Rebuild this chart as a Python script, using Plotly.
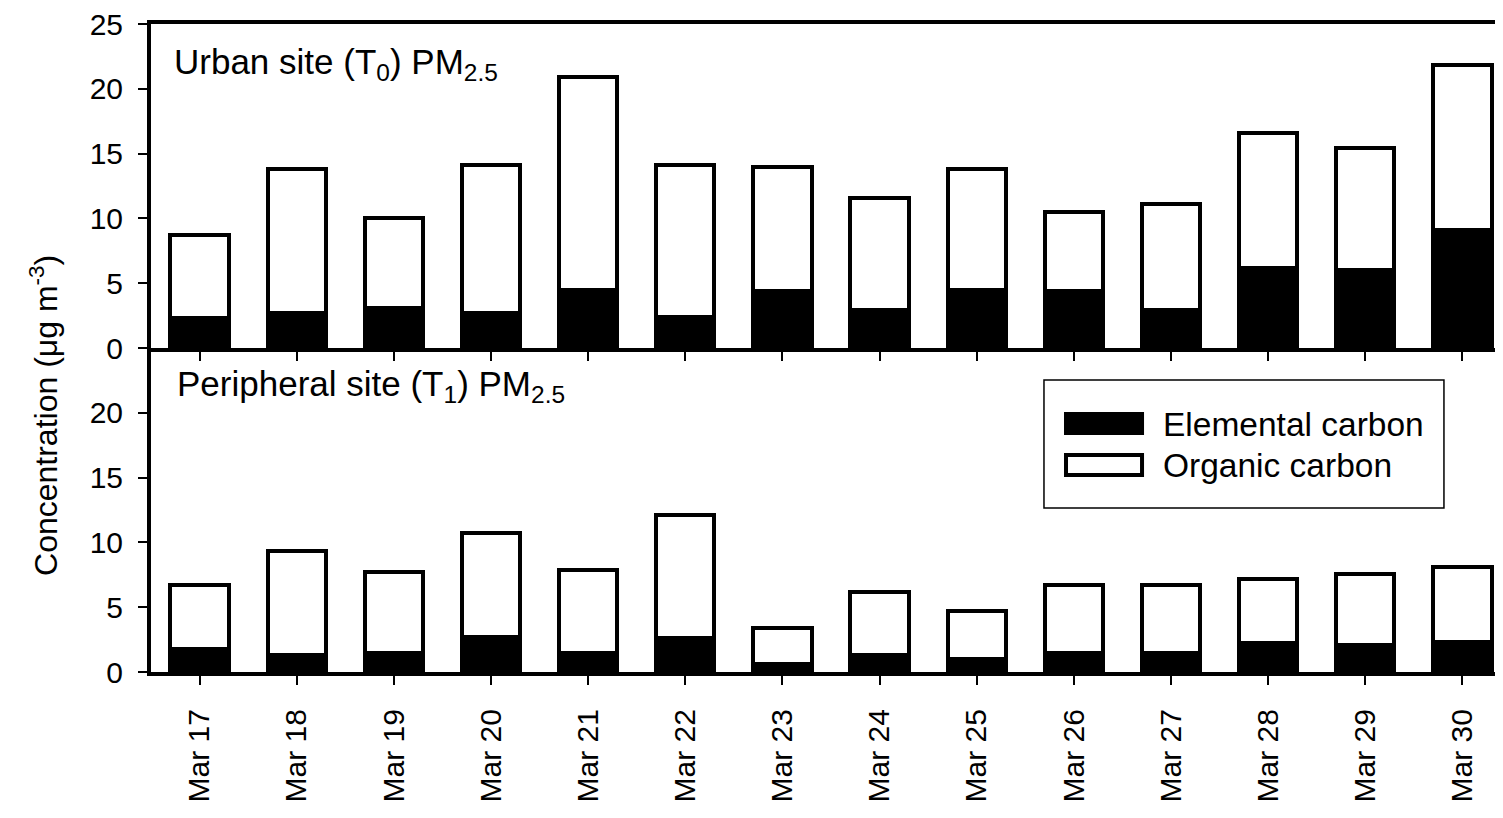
import plotly.graph_objects as go
from plotly.subplots import make_subplots

dates = ["Mar 17", "Mar 18", "Mar 19", "Mar 20", "Mar 21", "Mar 22", "Mar 23",
         "Mar 24", "Mar 25", "Mar 26", "Mar 27", "Mar 28", "Mar 29", "Mar 30"]

# Urban site (T0) PM2.5
urban_ec = [2.3, 2.7, 3.1, 2.7, 4.5, 2.4, 4.4, 2.9, 4.5, 4.4, 2.9, 6.2, 6.0, 9.1]
urban_oc = [6.4, 11.1, 6.9, 11.4, 16.4, 11.7, 9.6, 8.7, 9.3, 6.1, 8.2, 10.4, 9.4, 12.7]

# Peripheral site (T1) PM2.5
periph_ec = [1.8, 1.3, 1.5, 2.7, 1.5, 2.6, 0.6, 1.3, 1.0, 1.5, 1.5, 2.2, 2.1, 2.3]
periph_oc = [4.9, 8.0, 6.2, 8.0, 6.4, 9.5, 2.8, 4.9, 3.7, 5.2, 5.2, 5.0, 5.5, 5.8]

top_ticks = [0, 5, 10, 15, 20, 25]
bottom_ticks = [0, 5, 10, 15, 20]

FONT = "Arial, Liberation Sans, sans-serif"
BW = 0.6
LW = 4

fig = make_subplots(rows=2, cols=1, shared_xaxes=True, vertical_spacing=0)

for row, ec, oc in [(1, urban_ec, urban_oc), (2, periph_ec, periph_oc)]:
    fig.add_trace(go.Bar(x=dates, y=ec, name="Elemental carbon", width=BW,
                         marker=dict(color="black", line=dict(color="black", width=LW)),
                         showlegend=False), row=row, col=1)
    fig.add_trace(go.Bar(x=dates, y=oc, name="Organic carbon", width=BW,
                         marker=dict(color="white", line=dict(color="black", width=LW)),
                         showlegend=False), row=row, col=1)

xcommon = dict(range=[-0.5, 13.5], showline=True, linecolor="black", linewidth=LW,
               ticks="outside", ticklen=9, tickwidth=2, tickcolor="black", automargin=False,
               ticklabeloverflow="allow",
               showgrid=False, zeroline=False, tickfont=dict(family=FONT, size=30, color="black"))
fig.update_xaxes(**xcommon)
fig.update_xaxes(row=1, col=1, mirror=True, showticklabels=False)
fig.update_xaxes(row=2, col=1, tickangle=-90, ticklabelstandoff=12)

ycommon = dict(range=[0, 25], showline=True, linecolor="black", linewidth=LW,
               ticks="outside", ticklen=9, tickwidth=2, tickcolor="black", automargin=False,
               ticklabeloverflow="allow",
               showgrid=False, zeroline=False, ticklabelstandoff=9,
               tickfont=dict(family=FONT, size=30, color="black"))
fig.update_yaxes(**ycommon)
fig.update_yaxes(row=1, col=1, tickvals=top_ticks, domain=[0.5, 1])
fig.update_yaxes(row=2, col=1, tickvals=bottom_ticks, domain=[0, 0.5])

annots = [
    dict(text="Urban site (T<sub>0</sub>) PM<sub>2.5</sub>", x=0.0154, y=0.938,
         xref="paper", yref="paper", xanchor="left", yanchor="middle", showarrow=False,
         font=dict(family=FONT, size=35, color="black")),
    dict(text="Peripheral site (T<sub>1</sub>) PM<sub>2.5</sub>", x=0.0176, y=0.4414,
         xref="paper", yref="paper", xanchor="left", yanchor="middle", showarrow=False,
         font=dict(family=FONT, size=35, color="black")),
    dict(text="Concentration (μg m<sup>-3</sup>)", x=-0.0787, y=0.3966,
         xref="paper", yref="paper", xanchor="center", yanchor="middle", showarrow=False,
         textangle=-90, font=dict(family=FONT, size=32, color="black")),
    dict(text="Elemental carbon", x=0.7426, y=0.3827, xref="paper", yref="paper",
         xanchor="left", yanchor="middle", showarrow=False,
         font=dict(family=FONT, size=33.5, color="black")),
    dict(text="Organic carbon", x=0.7426, y=0.3194, xref="paper", yref="paper",
         xanchor="left", yanchor="middle", showarrow=False,
         font=dict(family=FONT, size=33.5, color="black")),
]

shapes = [
    dict(type="rect", xref="paper", yref="paper", x0=0.6566, x1=0.9507, y0=0.2531, y1=0.4506,
         line=dict(color="black", width=1.5), fillcolor="white", layer="above"),
    dict(type="rect", xref="paper", yref="paper", x0=0.6728, x1=0.7287, y0=0.3688, y1=0.3981,
         line=dict(color="black", width=LW), fillcolor="black", layer="above"),
    dict(type="rect", xref="paper", yref="paper", x0=0.6728, x1=0.7287, y0=0.3040, y1=0.3349,
         line=dict(color="black", width=LW), fillcolor="white", layer="above"),
]

fig.update_layout(
    width=1503, height=818, barmode="stack", bargap=0.4,
    margin=dict(l=143, r=0, t=16, b=154),
    plot_bgcolor="white", paper_bgcolor="white",
    annotations=annots, shapes=shapes,
    font=dict(family=FONT, color="black"),
)

fig.write_html("out.html")
